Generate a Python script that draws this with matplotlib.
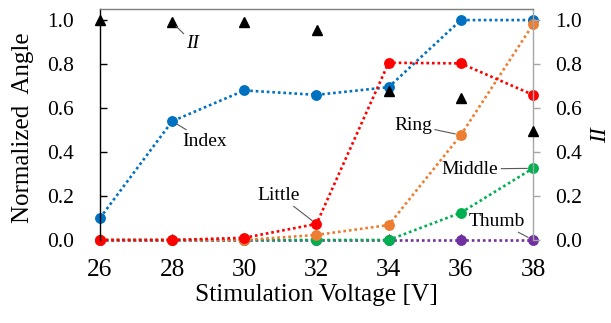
import matplotlib
matplotlib.use("Agg")
import matplotlib.pyplot as plt
from matplotlib import font_manager

# Pick a Times-like serif face that is present on this system
_names = {f.name for f in font_manager.fontManager.ttflist}
_serif = next((n for n in ['Liberation Serif', 'Times New Roman', 'Nimbus Roman',
                           'TeX Gyre Termes', 'STIXGeneral', 'DejaVu Serif']
               if n in _names), 'DejaVu Serif')
plt.rcParams['font.family'] = [_serif, 'DejaVu Serif']

# Stimulation voltages [V]
voltage = [26, 28, 30, 32, 34, 36, 38]

# Normalized joint angle for each finger
index_ang = [0.10, 0.54, 0.68, 0.66, 0.695, 1.00, 1.00]
little_ang = [0.0, 0.0, 0.01, 0.073, 0.806, 0.803, 0.66]
ring_ang = [0.0, 0.0, 0.0, 0.023, 0.068, 0.477, 0.98]
middle_ang = [0.0, 0.0, 0.0, 0.0, 0.0, 0.124, 0.326]
thumb_ang = [0.0, 0.0, 0.0, 0.0, 0.0, 0.0, 0.0]

# Independence index II (right axis)
ii_vals = [1.00, 0.99, 0.99, 0.957, 0.677, 0.644, 0.497]

yticks = [0.0, 0.2, 0.4, 0.6, 0.8, 1.0]
ytick_labels = ["0.0", "0.2", "0.4", "0.6", "0.8", "1.0"]

fig = plt.figure(figsize=(6.11, 3.23), dpi=100)
W, H = 611, 323
ax = fig.add_axes([100 / W, 1 - 240 / H, 433 / W, 230.7 / H])
ax2 = ax.twinx()

ymax = 1.049
ax.set_xlim(26, 38)
ax.set_ylim(0, ymax)
ax2.set_ylim(0, ymax)

line_kw = dict(linestyle=(0, (1, 1.1)), linewidth=1.9, marker='o',
               markersize=6.8, clip_on=False)

series = [
    ("Index", index_ang, '#0070C0'),
    ("Thumb", thumb_ang, '#7030A0'),
    ("Middle", middle_ang, '#00B050'),
    ("Ring", ring_ang, '#ED7D31'),
    ("Little", little_ang, '#FF0000'),
]
for name, vals, col in series:
    ax.plot(voltage, vals, color=col, markerfacecolor=col,
            markeredgecolor=col, **line_kw)

ax2.plot(voltage, ii_vals, linestyle='none', marker='^', markersize=7.5,
         color='black', clip_on=False, zorder=5)

# Spines
for s in ax.spines.values():
    s.set_visible(False)
for s in ax2.spines.values():
    s.set_visible(False)
ax.spines['left'].set_visible(True)
ax.spines['left'].set_color('black')
ax.spines['left'].set_linewidth(1.0)
ax2.spines['right'].set_visible(True)
ax2.spines['right'].set_color('#a6a6a6')
ax2.spines['right'].set_linewidth(1.0)
ax2.spines['top'].set_visible(True)
ax2.spines['top'].set_color('#7f7f7f')
ax2.spines['top'].set_linewidth(1.0)

# Ticks
ax.set_xticks(voltage)
ax.set_xticklabels([str(v) for v in voltage])
ax.tick_params(axis='x', direction='in', length=4, width=1, color='black',
               labelsize=18.3, pad=13.5)
ax.set_yticks(yticks)
ax.set_yticklabels(ytick_labels)
ax.tick_params(axis='y', direction='in', length=5, width=1, color='black',
               labelsize=15.5, pad=18.5)
ax2.set_yticks(yticks)
ax2.set_yticklabels(ytick_labels)
ax2.tick_params(axis='y', direction='out', length=5, width=1,
                color='#a6a6a6', labelcolor='black', labelsize=15.5, pad=11)

# Axis titles
fig.text(316 / W, 1 - 301 / H, "Stimulation Voltage [V]", fontsize=18.3,
         ha='center', va='baseline')
fig.text(29 / W, 1 - 127.5 / H, "Normalized  Angle", fontsize=18,
         rotation=90, rotation_mode='anchor', ha='center', va='baseline')
fig.text(606 / W, 1 - 135 / H, "II", fontsize=17, style='italic',
         rotation=90, rotation_mode='anchor', ha='center', va='baseline')

# Series labels with leader lines
arrow_kw = dict(arrowstyle='-', color='#595959', lw=0.8,
                shrinkA=0, shrinkB=4)


def px_to_data(px, py):
    return 26 + (px - 100) / 433 * 12, (240 - py) / 220


labels = [
    (ax, "Index", (28, index_ang[1]), px_to_data(205, 141), 'normal'),
    (ax, "Little", (32, little_ang[3]), px_to_data(279, 195), 'normal'),
    (ax, "Ring", (36, ring_ang[5]), px_to_data(413, 125), 'normal'),
    (ax, "Middle", (38, middle_ang[6]), px_to_data(470, 169), 'normal'),
    (ax, "Thumb", (38, thumb_ang[6]), px_to_data(497, 221), 'normal'),
    (ax2, "II", (28, ii_vals[1]), px_to_data(193, 43), 'italic'),
]
for axis, txt, xy, xyt, st in labels:
    axis.annotate(txt, xy=xy, xytext=xyt, textcoords='data', fontsize=14,
                  style=st, ha='center', va='center',
                  arrowprops=arrow_kw, annotation_clip=False, zorder=6)

fig.savefig("out.png", dpi=100)
